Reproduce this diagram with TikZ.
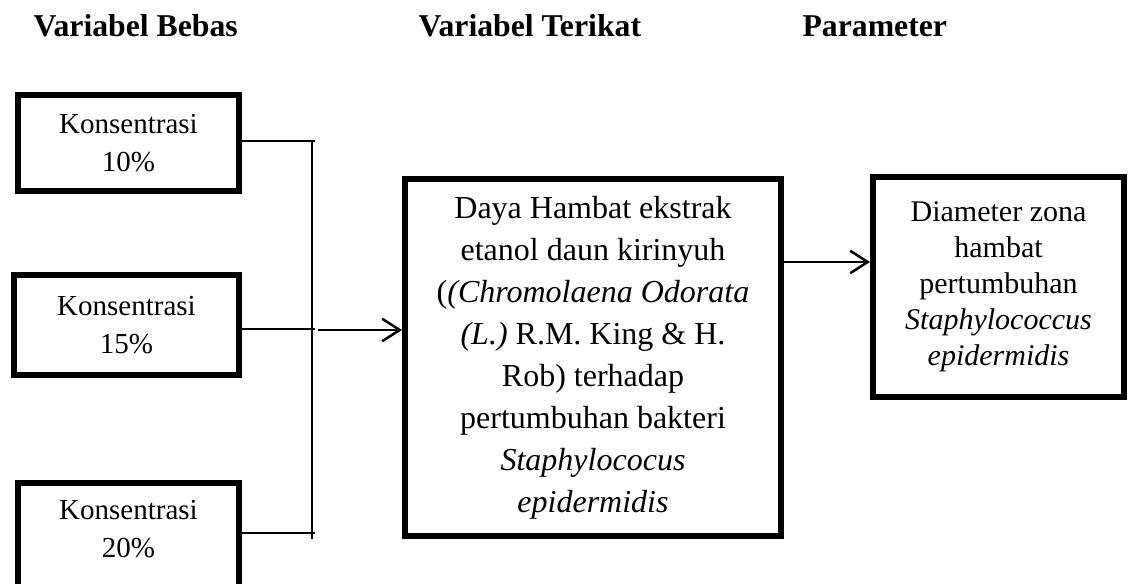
\documentclass[tikz,border=0pt]{standalone}
\usepackage{fontspec}
\setmainfont{Liberation Serif}
\usetikzlibrary{arrows.meta}
\begin{document}
\begin{tikzpicture}[x=0.4pt,y=-0.4pt,
  title/.style={anchor=base west, inner sep=0pt, font=\bfseries\fontsize{12.7}{15}\selectfont},
  box/.style={draw, line width=2.4pt, align=center, inner sep=0pt},
  leftbox/.style={box, minimum width=88.4pt, font=\fontsize{11.6}{15.2}\selectfont},
  conn/.style={line width=0.8pt},
  arr/.style={line width=1pt, -{Straight Barb[length=7pt,width=9pt,line width=1pt]}}
]
\useasboundingbox (0,0) rectangle (1130,584);
\clip (0,0) rectangle (1130,584);

\node[title] (t1) at (33,37) {Variabel Bebas};
\node[title] (t2) at (418,37) {Variabel Terikat};
\node[title] (t3) at (802,37) {Parameter};

\node[leftbox, minimum height=38.4pt] (b1) at (128.5,143) {Konsentrasi\\10\%};
\node[leftbox, minimum width=90pt, minimum height=40pt] (b2) at (126.5,325) {Konsentrasi\\15\%};
\node[leftbox, anchor=north, inner ysep=7pt, text depth=20pt] (b3) at (128.5,480) {Konsentrasi\\20\%};

\node[box, minimum width=150.4pt, minimum height=142.8pt, font=\fontsize{12.8}{16.8}\selectfont] (c) at (593,357.5)
 {Daya Hambat ekstrak\\etanol daun kirinyuh\\(\textit{(Chromolaena Odorata}\\\textit{(L.)} R.M. King \& H.\\Rob) terhadap\\pertumbuhan bakteri\\\textit{Staphylococus}\\\textit{epidermidis}};

\node[box, minimum width=100.4pt, minimum height=88pt, font=\fontsize{12}{14.4}\selectfont] (r) at (998.5,287)
 {Diameter zona\\hambat\\pertumbuhan\\\textit{Staphylococcus}\\\textit{epidermidis}};

\coordinate (j1) at (315,141);
\coordinate (j2) at (315,329);
\coordinate (j3) at (315,533);
\coordinate (vt) at (312,141);
\coordinate (vb) at (312,539);
\coordinate (a0) at (318,330);
\coordinate (a1) at (700,262);

\draw[conn] (b1.east |- j1) -- (j1);
\draw[conn] (b2.east |- j2) -- (j2);
\draw[conn] (b3.east |- j3) -- (j3);
\draw[conn] (vt) -- (vb);
\draw[arr] (a0) -- (c.west |- a0);
\draw[arr] (c.east |- a1) -- (r.west |- a1);
\end{tikzpicture}
\end{document}
